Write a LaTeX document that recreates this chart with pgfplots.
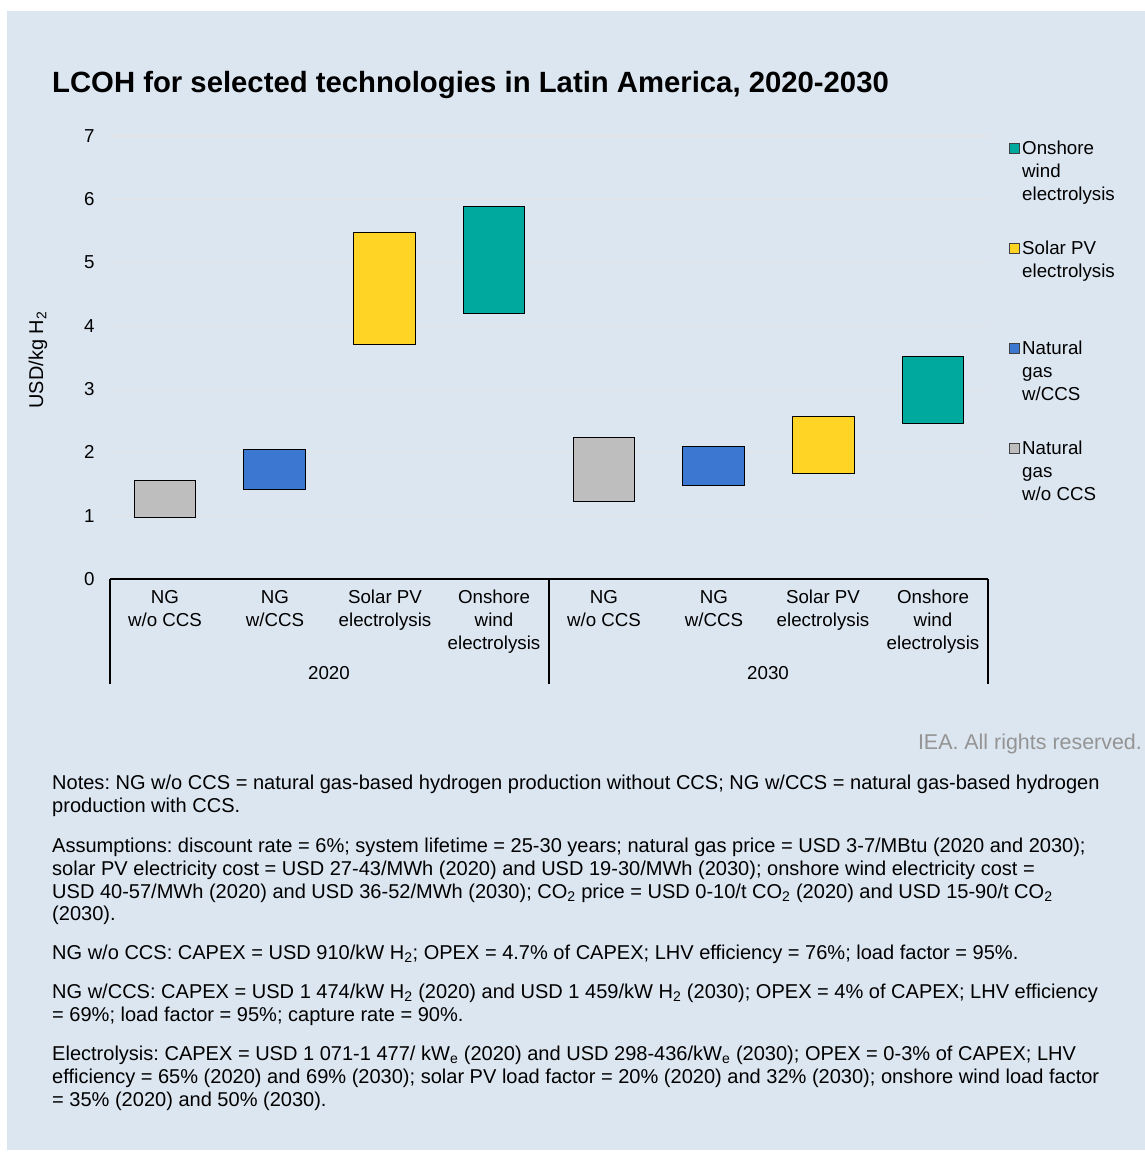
\documentclass[border=0pt]{standalone}
\usepackage{fontspec}
\setmainfont{Liberation Sans}
\usepackage{pgfplots}
\pgfplotsset{compat=1.18}
\usepgfplotslibrary{statistics}
\frenchspacing
\definecolor{bg}{HTML}{DCE6F1}
\definecolor{cgray}{HTML}{BEBEBE}
\definecolor{cblue}{HTML}{3C78D2}
\definecolor{cyellow}{HTML}{FFD424}
\definecolor{cteal}{HTML}{00A99D}
\definecolor{gridc}{HTML}{E3E3E3}
\newcommand{\fs}{\fontsize{18.8}{23}\selectfont}
\newcommand{\fn}{\fontsize{20.1}{23}\selectfont}
\newcommand{\nl}[3]{\node[anchor=base west, inner sep=0, font=\fn] at (#1,-#2) {#3};}
\newcommand{\lgl}[3]{\node[anchor=base west, inner sep=0, font=\fs] at (#1,-#2) {#3};}
\newcommand{\cl}[3]{\node[anchor=base, inner sep=0, font=\fs] at (#1,-#2) {#3};}
\begin{document}
\begin{tikzpicture}
\begin{scope}[x=1bp,y=1bp]
\useasboundingbox (0,0) rectangle (1145,-1155);
\fill[white] (0,0) rectangle (1145,-1155);
\fill[bg] (7,-11) rectangle (1145,-1150);
\end{scope}
\begin{axis}[at={(110bp,-579bp)}, anchor=south west, scale only axis,
  width=878bp, height=443bp, xmin=0, xmax=8, ymin=0, ymax=7,
  ytick={0,1,...,7}, xtick=\empty, axis line style={draw=none},
  ymajorgrids, grid style={gridc, line width=1.2bp}, major tick length=0,
  tick label style={font=\fs}, /pgf/number format/assume math mode=true,
  yticklabel style={xshift=-12bp}, clip=false,
  boxplot/draw direction=y]
% 2020
\addplot[fill=cgray, draw=black, line width=1bp, boxplot prepared={draw position=0.5, lower whisker=0.97, lower quartile=0.97, median=0.97, upper quartile=1.55, upper whisker=1.55, box extend=0.56}] coordinates {};
\addplot[fill=cblue, draw=black, line width=1bp, boxplot prepared={draw position=1.5, lower whisker=1.42, lower quartile=1.42, median=1.42, upper quartile=2.05, upper whisker=2.05, box extend=0.56}] coordinates {};
\addplot[fill=cyellow, draw=black, line width=1bp, boxplot prepared={draw position=2.5, lower whisker=3.71, lower quartile=3.71, median=3.71, upper quartile=5.48, upper whisker=5.48, box extend=0.56}] coordinates {};
\addplot[fill=cteal, draw=black, line width=1bp, boxplot prepared={draw position=3.5, lower whisker=4.20, lower quartile=4.20, median=4.20, upper quartile=5.88, upper whisker=5.88, box extend=0.56}] coordinates {};
% 2030
\addplot[fill=cgray, draw=black, line width=1bp, boxplot prepared={draw position=4.5, lower whisker=1.22, lower quartile=1.22, median=1.22, upper quartile=2.24, upper whisker=2.24, box extend=0.56}] coordinates {};
\addplot[fill=cblue, draw=black, line width=1bp, boxplot prepared={draw position=5.5, lower whisker=1.47, lower quartile=1.47, median=1.47, upper quartile=2.10, upper whisker=2.10, box extend=0.56}] coordinates {};
\addplot[fill=cyellow, draw=black, line width=1bp, boxplot prepared={draw position=6.5, lower whisker=1.66, lower quartile=1.66, median=1.66, upper quartile=2.57, upper whisker=2.57, box extend=0.56}] coordinates {};
\addplot[fill=cteal, draw=black, line width=1bp, boxplot prepared={draw position=7.5, lower whisker=2.46, lower quartile=2.46, median=2.46, upper quartile=3.51, upper whisker=3.51, box extend=0.56}] coordinates {};
\end{axis}
\begin{scope}[x=1bp,y=1bp]
\node[anchor=base west, inner sep=0, font=\fontsize{29.4}{34}\selectfont\bfseries] at (52,-92) {LCOH for selected technologies in Latin America, 2020-2030};
% axis lines
\draw[black, line width=1.3bp] (110,-579) -- (988,-579);
\draw[black, line width=1.1bp] (110,-579) -- (110,-684) (549,-579) -- (549,-684) (988,-579) -- (988,-684);
% y label
\node[rotate=90, font=\fontsize{20}{23}\selectfont, inner sep=0] at (38,-360) {USD/kg H\textsubscript{2}};
% category labels
\cl{165}{603}{NG}\cl{165}{626}{w/o CCS}
\cl{275}{603}{NG}\cl{275}{626}{w/CCS}
\cl{385}{603}{Solar PV}\cl{385}{626}{electrolysis}
\cl{494}{603}{Onshore}\cl{494}{626}{wind}\cl{494}{649}{electrolysis}
\cl{604}{603}{NG}\cl{604}{626}{w/o CCS}
\cl{714}{603}{NG}\cl{714}{626}{w/CCS}
\cl{823}{603}{Solar PV}\cl{823}{626}{electrolysis}
\cl{933}{603}{Onshore}\cl{933}{626}{wind}\cl{933}{649}{electrolysis}
\cl{329}{679}{2020}\cl{768}{679}{2030}
% legend
\filldraw[fill=cteal, draw=black!75, line width=0.8bp] (1009,-143) rectangle (1019,-153);
\lgl{1022}{154.5}{Onshore}\lgl{1022}{177.5}{wind}\lgl{1022}{200.5}{electrolysis}
\filldraw[fill=cyellow, draw=black!75, line width=0.8bp] (1009,-243) rectangle (1019,-253);
\lgl{1022}{254.5}{Solar PV}\lgl{1022}{277.5}{electrolysis}
\filldraw[fill=cblue, draw=black!75, line width=0.8bp] (1009,-343) rectangle (1019,-353);
\lgl{1022}{354.5}{Natural}\lgl{1022}{377.5}{gas}\lgl{1022}{400.5}{w/CCS}
\filldraw[fill=cgray, draw=black!75, line width=0.8bp] (1009,-443) rectangle (1019,-453);
\lgl{1022}{454.5}{Natural}\lgl{1022}{477.5}{gas}\lgl{1022}{500.5}{w/o CCS}
% credit
\node[anchor=base east, inner sep=0, font=\fontsize{21.5}{24}\selectfont, text=black!42] at (1142,-749) {IEA. All rights reserved.};
% notes
\nl{52}{789}{Notes: NG w/o CCS = natural gas-based hydrogen production without CCS; NG w/CCS = natural gas-based hydrogen}
\nl{52}{812}{production with CCS.}
\nl{52}{852}{Assumptions: discount rate = 6\%; system lifetime = 25-30 years; natural gas price = USD 3-7/MBtu (2020 and 2030);}
\nl{52}{875}{solar PV electricity cost = USD 27-43/MWh (2020) and USD 19-30/MWh (2030); onshore wind electricity cost =}
\nl{52}{898}{USD 40-57/MWh (2020) and USD 36-52/MWh (2030); CO\textsubscript{2} price = USD 0-10/t CO\textsubscript{2} (2020) and USD 15-90/t CO\textsubscript{2}}
\nl{52}{920}{(2030).}
\nl{52}{959}{NG w/o CCS: CAPEX = USD 910/kW H\textsubscript{2}; OPEX = 4.7\% of CAPEX; LHV efficiency = 76\%; load factor = 95\%.}
\nl{52}{998}{NG w/CCS: CAPEX = USD 1 474/kW H\textsubscript{2} (2020) and USD 1 459/kW H\textsubscript{2} (2030); OPEX = 4\% of CAPEX; LHV efficiency}
\nl{52}{1021}{= 69\%; load factor = 95\%; capture rate = 90\%.}
\nl{52}{1060}{Electrolysis: CAPEX = USD 1 071-1 477/ kW\textsubscript{e} (2020) and USD 298-436/kW\textsubscript{e} (2030); OPEX = 0-3\% of CAPEX; LHV}
\nl{52}{1083}{efficiency = 65\% (2020) and 69\% (2030); solar PV load factor = 20\% (2020) and 32\% (2030); onshore wind load factor}
\nl{52}{1106}{= 35\% (2020) and 50\% (2030).}
\end{scope}
\end{tikzpicture}
\end{document}
